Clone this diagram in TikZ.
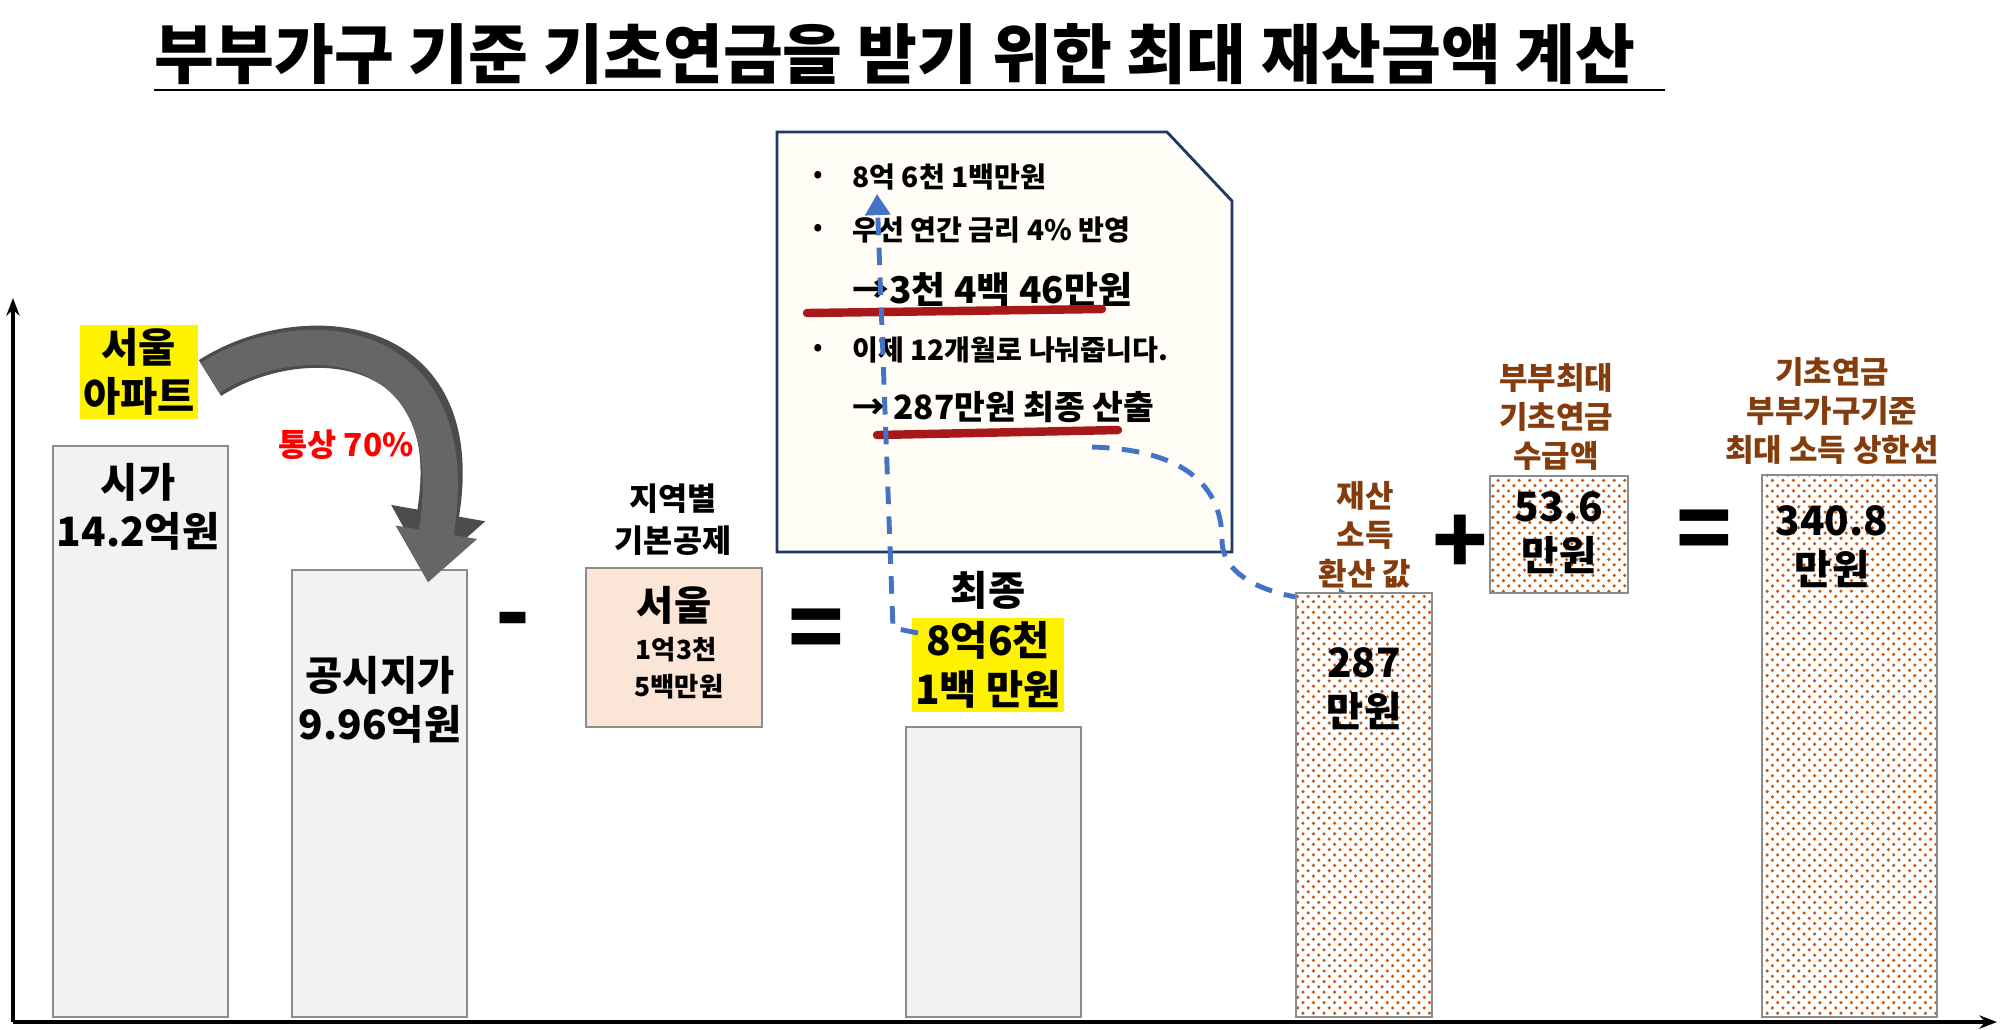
\documentclass[tikz,border=0pt]{standalone}
\usepackage{fontspec}
\setmainfont{Noto Sans CJK KR}
\usetikzlibrary{patterns,arrows.meta}
\definecolor{barfill}{HTML}{F2F2F2}
\definecolor{barline}{HTML}{8C8C8C}
\definecolor{peach}{HTML}{FBE5D6}
\definecolor{notefill}{HTML}{FFFDF5}
\definecolor{noteline}{HTML}{1F3864}
\definecolor{brownt}{HTML}{843C0C}
\definecolor{dotc}{HTML}{C55A11}
\definecolor{blu}{HTML}{4472C4}
\definecolor{redul}{HTML}{A81818}
\tikzset{
 bar/.style={draw=barline,fill=barfill,line width=0.7pt},
 dotbar/.style={draw=barline,line width=0.7pt,preaction={fill=white},pattern=crosshatch dots,pattern color=dotc},
 big/.style={font=\fontsize{11.5}{14}\selectfont\bfseries,align=center},
 mid/.style={font=\fontsize{9}{12}\selectfont\bfseries,align=center},
 small/.style={font=\fontsize{8.8}{11}\selectfont\bfseries,align=center,text=brownt},
 hl/.style={fill=yellow,inner sep=1pt},
 notet/.style={font=\fontsize{8}{10}\selectfont\bfseries,anchor=west},
 bdash/.style={blu,line width=1.4pt,dash pattern=on 5pt off 3.5pt,-{Triangle[width=7pt,length=6pt]}},
 redline/.style={redul,line width=2.4pt,line cap=round},
 sign/.style={font=\fontsize{26}{28}\selectfont\bfseries}
}
\begin{document}
\begin{tikzpicture}[x=0.01cm,y=-0.01cm]
\useasboundingbox (0,0) rectangle (2001,1029);
% title
\node[font=\fontsize{18.5}{20}\selectfont\bfseries] (title) at (895,54) {부부가구 기준 기초연금을 받기 위한 최대 재산금액 계산};
\draw[line width=0.8pt] (154,90) -- (1665,90);
% axes
\coordinate (o) at (13,1022);
\coordinate (yt) at (13,298);
\coordinate (xt) at (1997,1022);
\draw[line width=0.9pt,-{Stealth[length=5pt]}] (o) -- (yt);
\draw[line width=0.9pt,-{Stealth[length=5pt]}] (o) -- (xt);
% bars
\draw[bar] (53,446) rectangle (228,1017);
\node[big] (sg) at (138,507) {시가\\14.2억원};
\draw[bar] (292,570) rectangle (467,1017);
\node[big] (gs) at (380,700) {공시지가\\9.96억원};
\node[big,hl] (apt) at (139,372) {서울\\아파트};
\node[mid,text=red] (p70) at (346,445) {통상 70\%};
% curved block arrow
\coordinate (ca) at (210,378);
\coordinate (cb) at (428,572);
\draw[line width=12pt,black!70,-{Triangle[width=26pt,length=17pt]}] (ca) .. controls (300,320) and (470,330) .. (cb);
\draw[line width=10pt,gray!80!black,-{Triangle[width=22.5pt,length=14.5pt]}] (ca) .. controls (300,320) and (470,330) .. ([yshift=-3]cb);
% minus, equals
\node[sign] (minus) at (513,628) {-};
\node[mid] (jy) at (673,520) {지역별\\기본공제};
\draw[draw=barline,fill=peach,line width=0.7pt] (586,568) rectangle (762,727);
\node[big] (seoult) at (674,605) {서울};
\node[font=\fontsize{7.5}{10.5}\selectfont\bfseries,align=center] (amt) at (676,668) {1억3천\\\ 5백만원};
\node[sign] (eq1) at (816,635) {=};
% final bar
\draw[bar] (906,727) rectangle (1081,1017);
\node[big] (fin) at (988,590) {최종};
\node[big,hl] (fin2) at (988,665) {8억6천\\1백 만원};
% note
\draw[draw=noteline,fill=notefill,line width=0.8pt] (777,132) -- (1167,132) -- (1232,201) -- (1232,552) -- (777,552) -- cycle;
\node[font=\fontsize{8}{10}\selectfont] (b1) at (818,177) {•};
\node[font=\fontsize{8}{10}\selectfont] (b2) at (818,230) {•};
\node[font=\fontsize{8}{10}\selectfont] (b3) at (818,350) {•};
\node[notet] (n1) at (840,177) {8억 6천 1백만원};
\node[notet] (n2) at (840,230) {우선 연간 금리 4\% 반영};
\node[notet,font=\fontsize{10.5}{12}\selectfont\bfseries] (n3) at (840,290) {→3천 4백 46만원};
\node[notet] (n4) at (840,350) {이제 12개월로 나눠줍니다.};
\node[notet,font=\fontsize{9.5}{12}\selectfont\bfseries] (n5) at (840,407) {→ 287만원 최종 산출};
\draw[redline] (807,313) -- (1102,309);
\draw[redline] (877,435) -- (1118,430);
% blue arrows
\coordinate (s1) at (918,633);
\coordinate (t1) at (877,194);
\draw[bdash] (s1) -- (893,628) -- (t1);
\coordinate (s2) at (1092,447);
\coordinate (t2) at (1360,601);
\draw[bdash] (s2) .. controls (1190,450) and (1222,490) .. (1222,540) .. controls (1222,585) and (1290,601) .. (t2);
% property income bar
\node[small] (lbl1) at (1365,535) {재산\\소득\\환산 값};
\draw[dotbar] (1296,593) rectangle (1432,1017);
\node[big] (v287) at (1364,689) {287\\만원};
\node[sign] (plus) at (1460,545) {+};
\node[small] (lbl2) at (1556,417) {부부최대\\기초연금\\수급액};
\draw[dotbar] (1490,476) rectangle (1628,593);
\node[big] (v536) at (1559,533) {53.6\\만원};
\node[sign] (eq2) at (1704,536) {=};
\node[small] (lbl3) at (1832,411) {기초연금\\부부가구기준\\최대 소득 상한선};
\draw[dotbar] (1762,475) rectangle (1937,1017);
\node[big] (v340) at (1832,547) {340.8\\만원};
\end{tikzpicture}
\end{document}
